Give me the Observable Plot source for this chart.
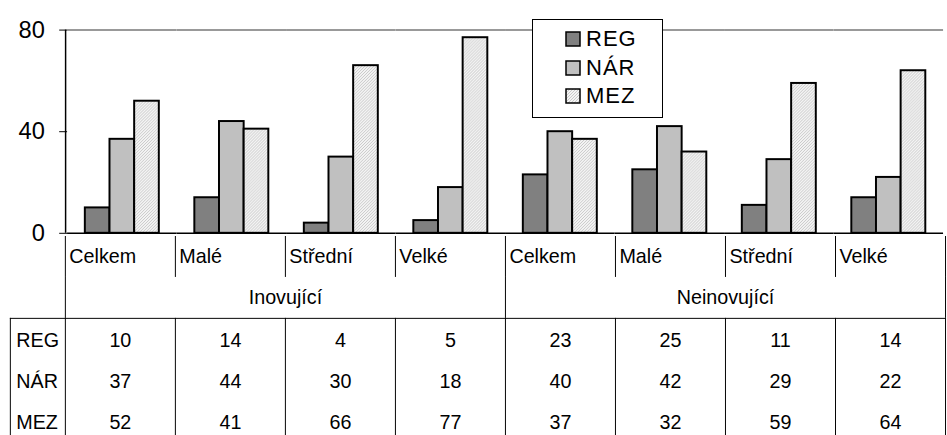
<!DOCTYPE html>
<html><head><meta charset="utf-8">
<script src="https://cdn.jsdelivr.net/npm/d3@7"></script>
<script src="https://cdn.jsdelivr.net/npm/@observablehq/plot@0.6"></script>
<style>
html,body{margin:0;padding:0;background:#fff;overflow:hidden;width:947px;height:435px;}
#wrap{position:relative;width:947px;height:435px;overflow:hidden;font-family:"Liberation Sans",Arial,sans-serif;color:#000;}
#chart,#table{position:absolute;left:0;}
#chart{top:0}
#table{top:236px}
#legend{position:absolute;left:532px;top:19px;width:131px;height:99px;box-sizing:border-box;border:1px solid #000;background:#fff;padding-top:5px;}
.item{height:28.5px;display:flex;align-items:center;padding-left:32px;font-size:22px;letter-spacing:1px;line-height:1;}
.item svg{margin-right:5px;flex:none}
</style></head><body><div id="wrap"><div id="chart"></div><div id="table"></div><div id="legend"></div></div>
<script>
const groups = ["Inovující", "Neinovující"];
const sizes = ["Celkem", "Malé", "Střední", "Velké"];
const series = ["REG", "NÁR", "MEZ"];
const valuesREG = [10, 14, 4, 5, 23, 25, 11, 14];
const valuesNAR = [37, 44, 30, 18, 40, 42, 29, 22];
const valuesMEZ = [52, 41, 66, 77, 37, 32, 59, 64];
const yTicks = [0, 40, 80];
const colors = ["#808080", "#c0c0c0", "url(#hatch)"];

const FONT = "'Liberation Sans', Arial, sans-serif";
const seriesValues = [valuesREG, valuesNAR, valuesMEZ];
const cats = groups.flatMap((g, gi) => sizes.map((s, si) => ({index: gi * sizes.length + si, group: g, size: s})));
const bars = cats.flatMap(c => series.map((s, j) => ({cat: c.index, series: s, value: seriesValues[j][c.index]})));
const cells = cats.flatMap(c => series.map((s, j) => ({cat: c.index, row: j, value: seriesValues[j][c.index]})));

const W = 960;
const chart = Plot.plot({
  width: W, height: 240, marginTop: 30, marginBottom: 4, marginLeft: 66, marginRight: 2,
  style: {fontFamily: FONT, fontSize: "22px", color: "#000", background: "none", overflow: "visible"},
  fx: {domain: cats.map(c => c.index), padding: 0, axis: null, label: null},
  x: {domain: series, paddingInner: 0, paddingOuter: 0.705, axis: null},
  y: {domain: [0, 80], label: null},
  color: {domain: series, range: colors},
  marks: [
    Plot.ruleY([80], {stroke: "#999", strokeWidth: 2}),
    Plot.barY(bars, {fx: "cat", x: "series", y: "value", fill: "series", stroke: "#000", strokeWidth: 2, inset: 0}),
    Plot.ruleY([0], {stroke: "#000", strokeWidth: 1.5}),
    Plot.axisY(yTicks, {tickSize: 8, tickPadding: 15, fontSize: 24, letterSpacing: "1.5px", label: null})
  ]
});
// fine hatch pattern
const svgA = d3.select(chart.tagName.toLowerCase() === "svg" ? chart : chart.querySelector("svg"));
const defs = svgA.insert("defs", ":first-child");
const pat = defs.append("pattern").attr("id", "hatch").attr("patternUnits", "userSpaceOnUse")
  .attr("width", 3).attr("height", 3);
pat.append("rect").attr("width", 3).attr("height", 3).attr("fill", "#f4f4f4");
pat.append("path").attr("d", "M-1,1 l2,-2 M0,3 l3,-3 M2,4 l2,-2").attr("stroke", "#c4c4c4").attr("stroke-width", 0.9);
// left axis line
const fxR = chart.scale("fx").range, yR = chart.scale("y").range;
svgA.append("line").attr("x1", fxR[0] + 0.5).attr("x2", fxR[0] + 0.5).attr("y1", yR[0]).attr("y2", yR[1])
  .attr("stroke", "#000").attr("stroke-width", 1.5);
document.getElementById("chart").append(chart);

// data table
const rowUnit = 41.5;
const tableRows = 2 + series.length;
const bounds = d3.range(cats.length + 1);
const groupBounds = bounds.filter(b => b % sizes.length === 0);
const table = Plot.plot({
  width: W, height: Math.ceil(tableRows * rowUnit) + 2, marginTop: 0, marginBottom: 0, marginLeft: 10, marginRight: 2,
  style: {fontFamily: FONT, fontSize: "20px", color: "#000", background: "none", overflow: "visible"},
  x: {domain: [-0.5, cats.length], axis: null},
  y: {domain: [0, tableRows], range: [0, tableRows * rowUnit], axis: null},
  marks: [
    Plot.ruleX(bounds, {y1: 0, y2: 1, stroke: "#000"}),
    Plot.ruleX(groupBounds, {y1: 1, y2: 2, stroke: "#000"}),
    Plot.ruleX(bounds, {y1: 2, y2: tableRows, stroke: "#000"}),
    Plot.ruleX([-0.5], {y1: 2, y2: tableRows, stroke: "#000"}),
    Plot.ruleY([2], {x1: -0.5, x2: cats.length, stroke: "#000"}),
    Plot.text(cats, {x: "index", y: 0.5, text: "size", textAnchor: "start", dx: 4, letterSpacing: "0.4px"}),
    Plot.text(groups, {x: (g, i) => i * sizes.length + sizes.length / 2, y: 1.5, text: d => d, letterSpacing: "0.6px"}),
    Plot.text(cells, {x: d => d.cat + 0.5, y: d => 2 + d.row + 0.5, dy: 1.5, text: "value"}),
    Plot.text(series, {x: -0.5, y: (d, i) => 2 + i + 0.5, dy: 1.5, text: d => d, textAnchor: "start", dx: 6, letterSpacing: "-0.5px"})
  ]
});
document.getElementById("table").append(table);

// legend
const legend = d3.select("#legend");
series.forEach((s, j) => {
  const item = legend.append("div").attr("class", "item");
  const sw = item.append("svg").attr("width", 16).attr("height", 16);
  sw.append("rect").attr("x", 1).attr("y", 1).attr("width", 14).attr("height", 14)
    .attr("fill", colors[j]).attr("stroke", "#000").attr("stroke-width", 1.5);
  item.append("span").text(s);
});
</script></body></html>
